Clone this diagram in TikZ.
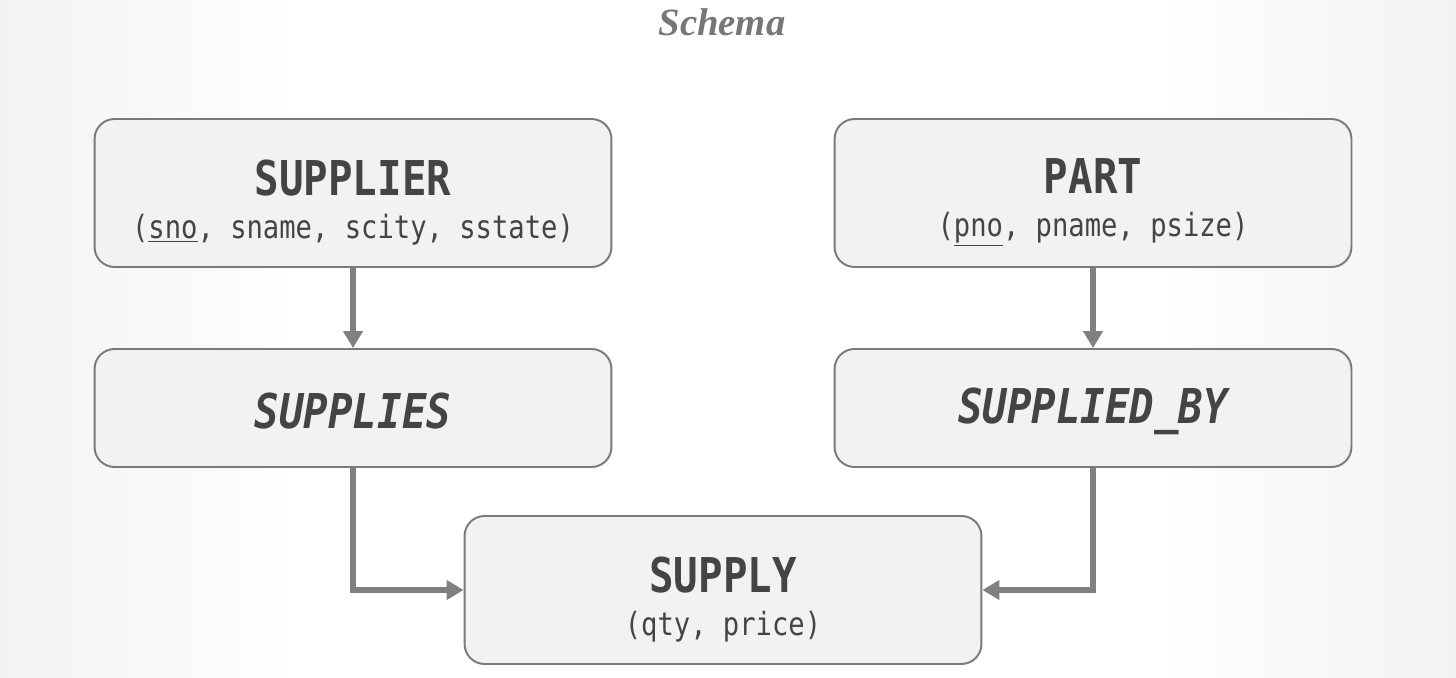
\documentclass[tikz,border=0pt]{standalone}
\usepackage{fontspec}
\usepackage{tikz}
\usetikzlibrary{arrows.meta}
\newfontfamily\erfont[FakeStretch=0.85]{DejaVu Sans Mono}
\newfontfamily\headfont{Liberation Serif}
\definecolor{boxfill}{HTML}{F2F2F2}
\definecolor{boxline}{HTML}{7A7A7A}
\definecolor{linkgray}{HTML}{808080}
\definecolor{inkgray}{HTML}{444444}
\definecolor{headgray}{HTML}{777777}
\newcommand{\entname}[1]{\rule{0pt}{31pt}{\bfseries\fontsize{27.3}{27.3}\selectfont #1}}

\begin{document}
\begin{tikzpicture}
    [x=0.02cm,y=-0.02cm,
     entity/.style={rectangle,rounded corners=0.4cm,draw=boxline,line width=1.1pt,fill=boxfill,
       minimum width=10.34cm,minimum height=2.96cm,inner sep=0pt,align=center,text=inkgray,
       font=\erfont\fontsize{18.2}{24.5}\selectfont},
     relship/.style={entity,minimum height=2.36cm,font=\erfont\bfseries\itshape\fontsize{27.3}{27.3}\selectfont},
     conn/.style={draw=linkgray,line width=3.2pt,-{Triangle[length=0.34cm,width=0.38cm]}}]
    % background
    \useasboundingbox (0,0) rectangle (1456,678);
    \fill[white] (0,0) rectangle (1456,678);
    \shade[left color=black!5,right color=white] (0,0) rectangle (300,678);
    \shade[left color=white,right color=black!5] (1156,0) rectangle (1456,678);

    \node[text=headgray,font=\headfont\bfseries\itshape\fontsize{22}{22}\selectfont] (head) at (722,22) {Schema};

    \node[entity] (supplier) at (353,193)
      {\entname{SUPPLIER}\\(\underline{sno}, sname, scity, sstate)};
    \node[entity] (part) at (1093,193)
      {\entname{PART}\\(\underline{pno}, pname, psize)};
    \node[relship] (supplies) at (353,408) {\rule{0pt}{24pt}SUPPLIES};
    \node[relship] (suppliedby) at (1093,408) {\rule{0pt}{24pt}SUPPLIED\_BY};
    \node[entity] (supply) at (723,590)
      {\entname{SUPPLY}\\(qty, price)};

    \path[conn] (supplier) -- (supplies);
    \path[conn] (part) -- (suppliedby);
    \path[conn] (supplies.south) |- (supply.west);
    \path[conn] (suppliedby.south) |- (supply.east);

  \end{tikzpicture}
\end{document}
